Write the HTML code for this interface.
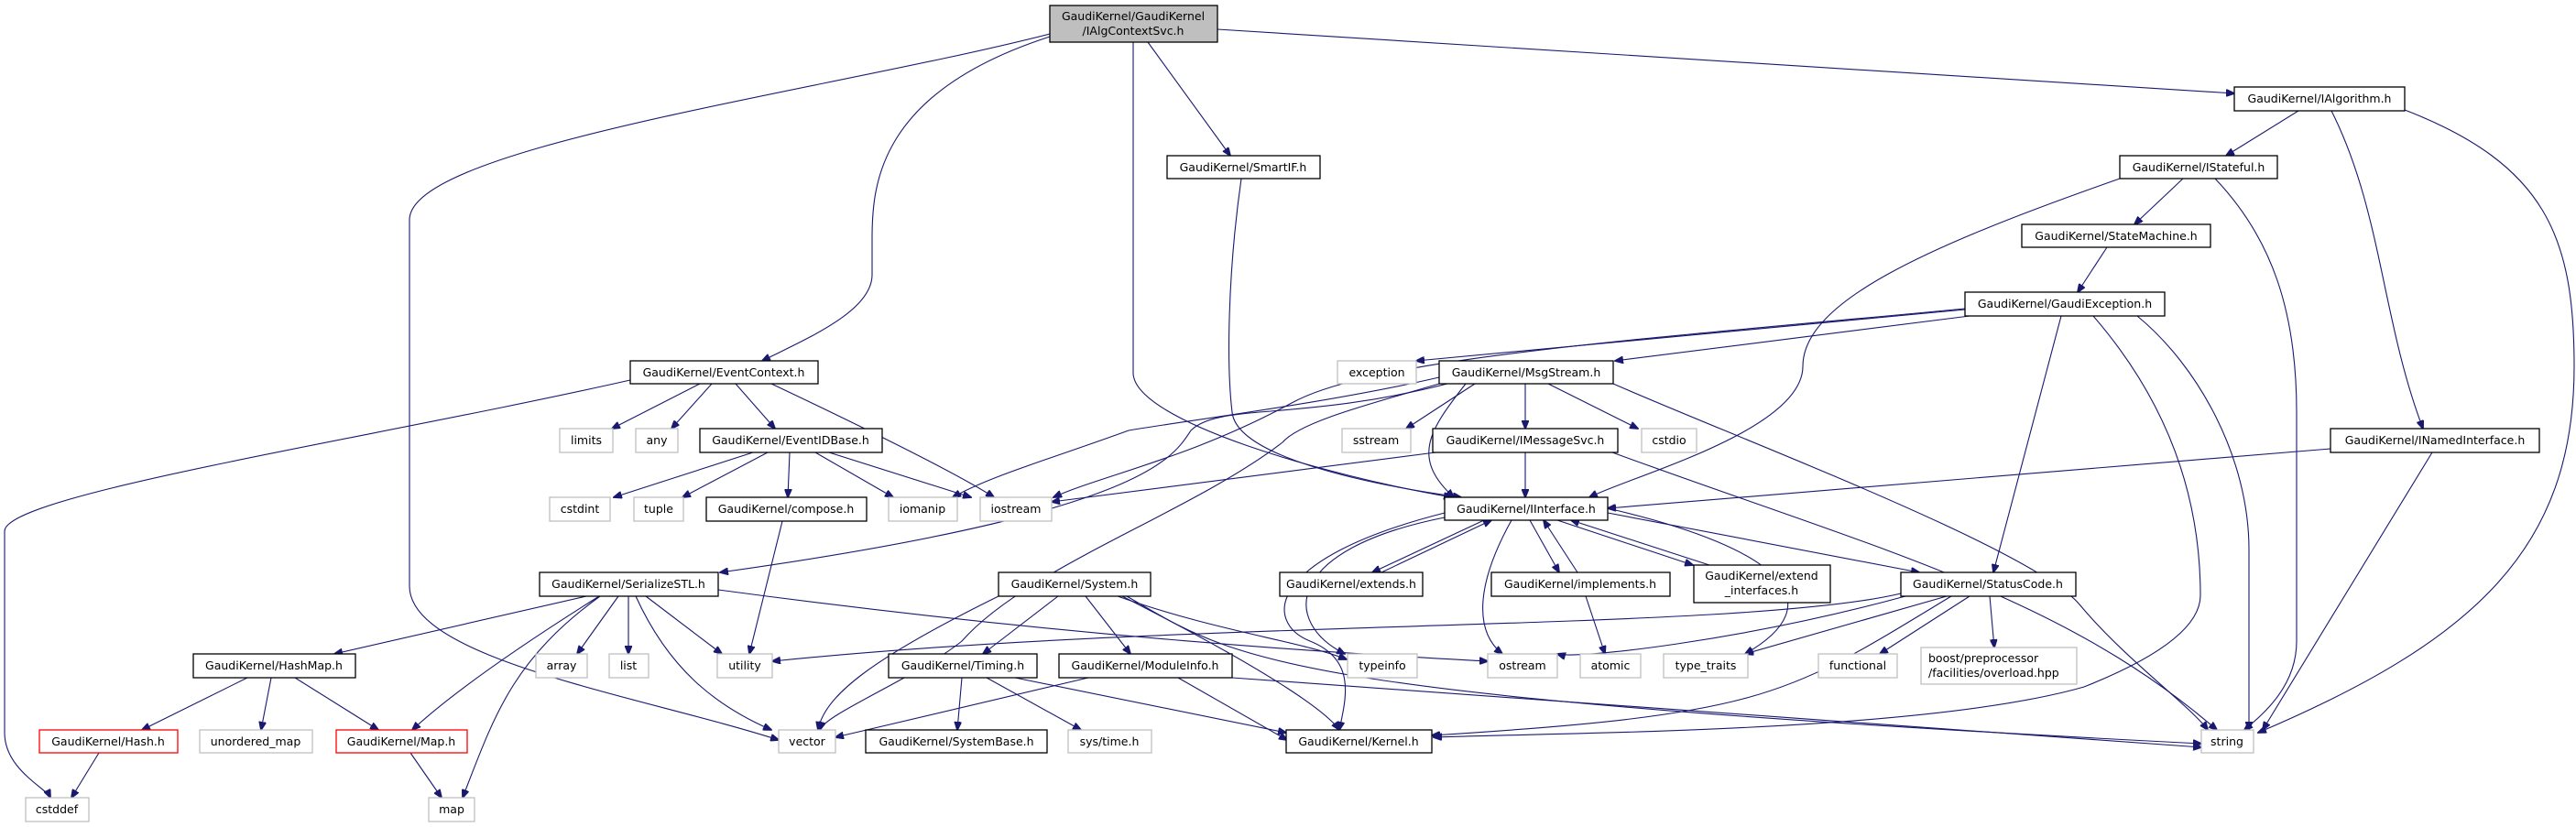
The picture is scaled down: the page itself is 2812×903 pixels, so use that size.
<!DOCTYPE html>
<html><head><meta charset="utf-8"><style>
html,body{margin:0;padding:0;background:#fff;}
svg{display:block;}
text{font-family:"DejaVu Sans","Liberation Sans",sans-serif;font-size:12.5px;fill:#000;}
.e{fill:none;stroke:#191970;stroke-width:1.1;marker-end:url(#a);}
.b{fill:#fff;stroke:#000;stroke-width:1.3;}
.g{fill:#fff;stroke:#bfbfbf;stroke-width:1.3;}
.r{fill:#fff;stroke:#ff0000;stroke-width:1.3;}
</style></head><body>
<svg width="2812" height="903" viewBox="0 0 2812 903" xmlns="http://www.w3.org/2000/svg">
<defs><marker id="a" markerWidth="10" markerHeight="8" refX="9" refY="4" orient="auto" markerUnits="userSpaceOnUse"><path d="M0,0 L10,4 L0,8 z" fill="#191970" stroke="#191970"/></marker></defs>
<!-- edges -->
<path class="e" d="M1146,37 C900,100 447,160 447,240 L447,640 C447,720 700,760 850,808"/>
<path class="e" d="M1146,40 C960,100 952,200 952,260 L952,300 C952,340 880,370 832,394"/>
<path class="e" d="M1237,46 L1237,407 C1237,460 1450,520 1585,543"/>
<path class="e" d="M1253,46 L1343,170"/>
<path class="e" d="M1329,32 L2439,102"/>
<path class="e" d="M1355,195 C1340,300 1339,400 1345,450 C1350,500 1500,530 1595,543"/>
<path class="e" d="M2509,121 L2430,170"/>
<path class="e" d="M2545,121 C2600,230 2600,350 2645,468"/>
<path class="e" d="M2625,120 C2780,180 2810,260 2810,400 C2810,600 2700,700 2465,800"/>
<path class="e" d="M2383,195 L2330,245"/>
<path class="e" d="M2314,195 C2100,270 1968,330 1968,400 C1968,470 1780,520 1735,543"/>
<path class="e" d="M2418,195 C2480,260 2507,340 2507,450 L2507,700 C2507,750 2470,780 2450,797"/>
<path class="e" d="M2300,270 L2268,319"/>
<path class="e" d="M2145,338 L1546,394"/>
<path class="e" d="M2150,345 L1763,394"/>
<path class="e" d="M2145,337 C1800,370 1500,390 1410,440 C1300,500 1200,520 1150,543"/>
<path class="e" d="M2250,345 L2176,625"/>
<path class="e" d="M2285,345 C2350,420 2402,520 2402,650 C2402,700 2300,740 2275,750 C2100,800 1700,800 1565,805"/>
<path class="e" d="M2333,345 C2400,400 2455,500 2455,600 L2455,797"/>
<path class="e" d="M1571,412 C1450,440 1290,460 1232,470 C1150,500 1080,520 1040,543"/>
<path class="e" d="M1571,419 C1500,440 1420,460 1400,483 C1300,560 1120,620 1050,700 C1000,740 900,780 895,797"/>
<path class="e" d="M1580,419 C1420,460 1330,440 1300,470 C1280,500 1250,560 786,625"/>
<path class="e" d="M1610,419 L1535,468"/>
<path class="e" d="M1665,419 L1665,468"/>
<path class="e" d="M1690,419 L1788,468"/>
<path class="e" d="M1761,419 C1900,480 2220,600 2270,660 C2320,720 2390,770 2410,797"/>
<path class="e" d="M1600,419 C1560,470 1540,500 1587,543"/>
<path class="e" d="M688,415 C400,480 5,540 5,580 L5,800 C5,840 50,860 55,871"/>
<path class="e" d="M764,419 L668,468"/>
<path class="e" d="M777,419 L733,468"/>
<path class="e" d="M803,419 L846,468"/>
<path class="e" d="M842,419 C950,470 1050,520 1085,543"/>
<path class="e" d="M822,494 L670,543"/>
<path class="e" d="M838,494 L745,543"/>
<path class="e" d="M862,494 L860,543"/>
<path class="e" d="M890,494 L975,543"/>
<path class="e" d="M905,494 L1060,543"/>
<path class="e" d="M854,569 L818,714"/>
<path class="e" d="M640,651 L365,714"/>
<path class="e" d="M654,651 C560,710 490,760 450,797"/>
<path class="e" d="M655,651 C560,720 540,780 505,871"/>
<path class="e" d="M675,651 L630,714"/>
<path class="e" d="M686,651 L686,714"/>
<path class="e" d="M705,651 L788,714"/>
<path class="e" d="M694,651 C730,730 780,770 842,797"/>
<path class="e" d="M784,644 C1200,700 1500,715 1624,722"/>
<path class="e" d="M270,740 L155,797"/>
<path class="e" d="M296,740 L285,797"/>
<path class="e" d="M322,740 L413,797"/>
<path class="e" d="M108,822 L78,871"/>
<path class="e" d="M448,822 L482,871"/>
<path class="e" d="M1090,651 C950,720 900,760 893,797"/>
<path class="e" d="M1155,651 L1073,714"/>
<path class="e" d="M1185,651 L1234,714"/>
<path class="e" d="M1220,651 C1330,690 1420,700 1470,720"/>
<path class="e" d="M1225,651 C1400,740 1450,780 1462,797"/>
<path class="e" d="M1230,651 C1350,720 1380,760 2403,812"/>
<path class="e" d="M1050,740 L1045,797"/>
<path class="e" d="M1077,740 L1180,797"/>
<path class="e" d="M1108,740 L1404,800"/>
<path class="e" d="M1188,740 L912,805"/>
<path class="e" d="M1286,740 L1405,808"/>
<path class="e" d="M1345,740 L2403,816"/>
<path class="e" d="M1620,568 L1498,625"/>
<path class="e" d="M1508,625 L1628,568"/>
<path class="e" d="M1670,568 L1702,625"/>
<path class="e" d="M1722,625 L1685,568"/>
<path class="e" d="M1700,568 L1848,617"/>
<path class="e" d="M1866,617 L1715,568"/>
<path class="e" d="M1755,560 L2095,625"/>
<path class="e" d="M1650,568 C1610,640 1610,690 1640,714"/>
<path class="e" d="M1577,565 C1400,600 1400,680 1468,714"/>
<path class="e" d="M1577,560 C1380,610 1380,680 1430,700 C1480,720 1470,760 1462,797"/>
<path class="e" d="M1755,555 C1950,600 2000,660 1905,714"/>
<path class="e" d="M2075,648 C1900,690 1300,675 843,722"/>
<path class="e" d="M2080,651 C1900,700 1720,720 1700,714"/>
<path class="e" d="M2125,651 L1905,714"/>
<path class="e" d="M2150,651 L2052,714"/>
<path class="e" d="M2172,651 L2177,707"/>
<path class="e" d="M2130,651 C1950,760 1930,780 1563,803"/>
<path class="e" d="M1731,651 L1752,714"/>
<path class="e" d="M2544,490 L1755,555"/>
<path class="e" d="M2655,494 L2470,797"/>
<path class="e" d="M1665,494 L1665,543"/>
<path class="e" d="M1567,494 L1148,548"/>
<path class="e" d="M1760,494 C2050,600 2250,650 2420,797"/>
<!-- nodes -->
<rect x="1146" y="6" width="183" height="40" fill="#bfbfbf" stroke="#000" stroke-width="1.3"/>
<text x="1237" y="22" text-anchor="middle">GaudiKernel/GaudiKernel</text>
<text x="1237" y="38" text-anchor="middle">/IAlgContextSvc.h</text>
<rect class="b" x="1274" y="170" width="167" height="25"/><text x="1357" y="187" text-anchor="middle">GaudiKernel/SmartIF.h</text>
<rect class="b" x="688" y="394" width="205" height="25"/><text x="790" y="411" text-anchor="middle">GaudiKernel/EventContext.h</text>
<rect class="b" x="2439" y="95" width="186" height="26"/><text x="2532" y="112" text-anchor="middle">GaudiKernel/IAlgorithm.h</text>
<rect class="b" x="2314" y="170" width="172" height="25"/><text x="2400" y="187" text-anchor="middle">GaudiKernel/IStateful.h</text>
<rect class="b" x="2207" y="245" width="206" height="25"/><text x="2310" y="262" text-anchor="middle">GaudiKernel/StateMachine.h</text>
<rect class="b" x="2145" y="319" width="218" height="26"/><text x="2254" y="336" text-anchor="middle">GaudiKernel/GaudiException.h</text>
<rect class="g" x="1460" y="394" width="86" height="25"/><text x="1503" y="411" text-anchor="middle">exception</text>
<rect class="b" x="1571" y="394" width="190" height="25"/><text x="1666" y="411" text-anchor="middle">GaudiKernel/MsgStream.h</text>
<rect class="g" x="611" y="468" width="58" height="26"/><text x="640" y="485" text-anchor="middle">limits</text>
<rect class="g" x="694" y="468" width="46" height="26"/><text x="717" y="485" text-anchor="middle">any</text>
<rect class="b" x="764" y="468" width="199" height="26"/><text x="863" y="485" text-anchor="middle">GaudiKernel/EventIDBase.h</text>
<rect class="g" x="1465" y="468" width="75" height="26"/><text x="1502" y="485" text-anchor="middle">sstream</text>
<rect class="b" x="1564" y="468" width="202" height="26"/><text x="1665" y="485" text-anchor="middle">GaudiKernel/IMessageSvc.h</text>
<rect class="g" x="1792" y="468" width="60" height="26"/><text x="1822" y="485" text-anchor="middle">cstdio</text>
<rect class="b" x="2544" y="468" width="228" height="26"/><text x="2658" y="485" text-anchor="middle">GaudiKernel/INamedInterface.h</text>
<rect class="g" x="600" y="543" width="66" height="26"/><text x="633" y="560" text-anchor="middle">cstdint</text>
<rect class="g" x="692" y="543" width="54" height="26"/><text x="719" y="560" text-anchor="middle">tuple</text>
<rect class="b" x="771" y="543" width="175" height="26"/><text x="858" y="560" text-anchor="middle">GaudiKernel/compose.h</text>
<rect class="g" x="970" y="543" width="75" height="26"/><text x="1007" y="560" text-anchor="middle">iomanip</text>
<rect class="g" x="1070" y="543" width="78" height="26"/><text x="1109" y="560" text-anchor="middle">iostream</text>
<rect class="b" x="1577" y="543" width="178" height="25"/><text x="1666" y="560" text-anchor="middle">GaudiKernel/IInterface.h</text>
<rect class="b" x="589" y="625" width="195" height="26"/><text x="686" y="642" text-anchor="middle">GaudiKernel/SerializeSTL.h</text>
<rect class="b" x="1090" y="625" width="166" height="26"/><text x="1173" y="642" text-anchor="middle">GaudiKernel/System.h</text>
<rect class="b" x="1397" y="625" width="156" height="26"/><text x="1475" y="642" text-anchor="middle">GaudiKernel/extends.h</text>
<rect class="b" x="1628" y="625" width="195" height="26"/><text x="1725" y="642" text-anchor="middle">GaudiKernel/implements.h</text>
<rect class="b" x="1849" y="617" width="149" height="41"/><text x="1923" y="633" text-anchor="middle">GaudiKernel/extend</text><text x="1923" y="649" text-anchor="middle">_interfaces.h</text>
<rect class="b" x="2075" y="625" width="191" height="26"/><text x="2170" y="642" text-anchor="middle">GaudiKernel/StatusCode.h</text>
<rect class="b" x="211" y="714" width="177" height="26"/><text x="299" y="731" text-anchor="middle">GaudiKernel/HashMap.h</text>
<rect class="g" x="585" y="714" width="56" height="26"/><text x="613" y="731" text-anchor="middle">array</text>
<rect class="g" x="665" y="714" width="43" height="26"/><text x="686" y="731" text-anchor="middle">list</text>
<rect class="g" x="783" y="714" width="60" height="26"/><text x="813" y="731" text-anchor="middle">utility</text>
<rect class="b" x="970" y="714" width="162" height="26"/><text x="1051" y="731" text-anchor="middle">GaudiKernel/Timing.h</text>
<rect class="b" x="1156" y="714" width="189" height="26"/><text x="1250" y="731" text-anchor="middle">GaudiKernel/ModuleInfo.h</text>
<rect class="g" x="1471" y="714" width="76" height="26"/><text x="1509" y="731" text-anchor="middle">typeinfo</text>
<rect class="g" x="1624" y="714" width="76" height="26"/><text x="1662" y="731" text-anchor="middle">ostream</text>
<rect class="g" x="1725" y="714" width="66" height="26"/><text x="1758" y="731" text-anchor="middle">atomic</text>
<rect class="g" x="1816" y="714" width="92" height="26"/><text x="1862" y="731" text-anchor="middle">type_traits</text>
<rect class="g" x="1985" y="714" width="86" height="26"/><text x="2028" y="731" text-anchor="middle">functional</text>
<rect class="g" x="2097" y="707" width="170" height="40"/><text x="2105" y="723">boost/preprocessor</text><text x="2105" y="739">/facilities/overload.hpp</text>
<rect class="r" x="43" y="797" width="151" height="25"/><text x="118" y="814" text-anchor="middle">GaudiKernel/Hash.h</text>
<rect class="g" x="218" y="797" width="123" height="25"/><text x="279" y="814" text-anchor="middle">unordered_map</text>
<rect class="r" x="367" y="797" width="143" height="25"/><text x="438" y="814" text-anchor="middle">GaudiKernel/Map.h</text>
<rect class="g" x="850" y="797" width="62" height="25"/><text x="881" y="814" text-anchor="middle">vector</text>
<rect class="b" x="945" y="797" width="198" height="25"/><text x="1044" y="814" text-anchor="middle">GaudiKernel/SystemBase.h</text>
<rect class="g" x="1166" y="797" width="91" height="25"/><text x="1211" y="814" text-anchor="middle">sys/time.h</text>
<rect class="b" x="1404" y="797" width="159" height="25"/><text x="1483" y="814" text-anchor="middle">GaudiKernel/Kernel.h</text>
<rect class="g" x="2403" y="797" width="57" height="25"/><text x="2431" y="814" text-anchor="middle">string</text>
<rect class="g" x="28" y="871" width="69" height="26"/><text x="62" y="888" text-anchor="middle">cstddef</text>
<rect class="g" x="468" y="871" width="50" height="26"/><text x="493" y="888" text-anchor="middle">map</text>
</svg>
</body></html>
